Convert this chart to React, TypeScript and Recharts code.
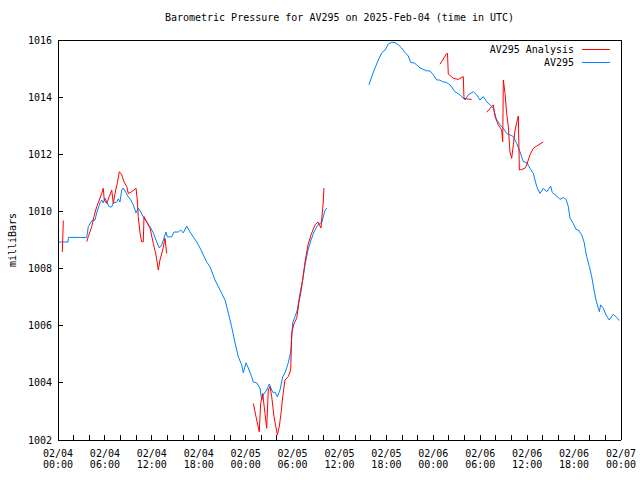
import React from "react";
import { LineChart, Line, XAxis, YAxis } from "recharts";

// hours since 02/04 00:00 UTC, pressure in mb
const av295Seg1: [number, number][] = [
    [0, 1008.93], [1.28, 1008.93], [1.34, 1009.09], [3.67, 1009.09], [3.88, 1009.47], [4.31, 1009.67],
    [4.73, 1009.7], [4.95, 1009.95], [5.15, 1010.12], [5.37, 1010.3], [5.59, 1010.4], [5.79, 1010.3],
    [6.01, 1010.47], [6.23, 1010.33], [6.56, 1010.16], [6.87, 1010.16], [7.07, 1010.3], [7.51, 1010.33],
    [7.71, 1010.44], [7.93, 1010.33], [8.15, 1010.75], [8.35, 1010.82], [8.7, 1010.65], [8.99, 1010.51],
    [9.3, 1010.4], [9.63, 1010.23], [9.98, 1009.95], [10.27, 1010.12], [10.58, 1009.98], [10.91, 1009.81],
    [11.34, 1009.63], [11.77, 1009.46], [12.19, 1009.25], [12.53, 1009.0], [12.95, 1008.72], [13.26, 1008.83],
    [13.56, 1009.07], [13.81, 1009.28], [13.98, 1009.11], [14.54, 1009.11], [14.83, 1009.28], [15.38, 1009.28],
    [15.69, 1009.35], [16.02, 1009.25], [16.46, 1009.49], [16.88, 1009.28], [17.3, 1009.11], [17.74, 1008.93],
    [18.16, 1008.72], [18.58, 1008.48], [19.02, 1008.23], [19.44, 1008.06], [20.08, 1007.6], [20.72, 1007.25],
    [21.36, 1006.9], [21.78, 1006.45], [22.21, 1005.96], [22.64, 1005.4], [23.06, 1004.91], [23.49, 1004.63],
    [23.7, 1004.35], [24.04, 1004.7], [24.34, 1004.52], [24.77, 1004.21], [24.98, 1004.03], [25.41, 1004.0],
    [25.83, 1003.82], [26.05, 1003.4], [26.26, 1003.58], [26.69, 1003.75], [27.02, 1003.96], [27.33, 1003.75],
    [27.53, 1003.65], [27.75, 1003.68], [28.05, 1003.51], [28.39, 1003.75], [28.74, 1004.21], [29.03, 1004.35],
    [29.45, 1004.7], [29.76, 1005.08], [30.01, 1006.1], [30.31, 1006.31], [30.6, 1006.55], [30.95, 1007.15],
    [31.29, 1007.6], [31.59, 1008.13], [31.97, 1008.65], [32.36, 1009.0], [32.74, 1009.28], [33.25, 1009.53],
    [33.76, 1009.63], [34.15, 1010.05], [34.4, 1010.12],
];

const av295Seg2: [number, number][] = [
    [39.77, 1014.43], [40.12, 1014.72], [40.54, 1015.02], [40.96, 1015.3], [41.4, 1015.55], [41.82, 1015.65],
    [42.24, 1015.86], [42.68, 1015.92], [43.1, 1015.91], [43.52, 1015.83], [43.95, 1015.72], [44.38, 1015.56],
    [44.8, 1015.44], [45.11, 1015.21], [45.53, 1015.2], [45.87, 1015.13], [46.3, 1015.02], [46.72, 1014.97],
    [47.15, 1014.92], [47.57, 1014.92], [48.0, 1014.78], [48.43, 1014.6], [48.76, 1014.6], [49.2, 1014.54],
    [49.71, 1014.51], [50.13, 1014.43], [50.77, 1014.19], [51.41, 1014.08], [52.05, 1013.9], [52.47, 1014.08],
    [53.11, 1014.19], [53.55, 1014.08], [53.97, 1013.9], [54.39, 1014.02], [54.83, 1013.84], [55.25, 1013.73],
    [55.67, 1013.61], [56.1, 1013.2], [56.53, 1013.03], [56.95, 1012.91], [57.38, 1012.73], [57.8, 1012.68],
    [58.23, 1012.62], [58.66, 1012.38], [59.08, 1012.09], [59.51, 1011.74], [59.94, 1011.71], [60.36, 1011.51],
    [60.79, 1011.33], [61.0, 1011.1], [61.22, 1010.87], [61.64, 1010.63], [62.06, 1010.81], [62.5, 1010.69],
    [63.01, 1010.89], [63.21, 1010.66], [63.78, 1010.54], [64.2, 1010.42], [64.62, 1010.49], [64.97, 1010.42],
    [65.26, 1010.17], [65.48, 1009.76], [65.9, 1009.58], [66.24, 1009.37], [66.54, 1009.35], [66.97, 1009.18],
    [67.27, 1008.94], [67.61, 1008.42], [67.95, 1008.07], [68.25, 1007.72], [68.55, 1007.25], [68.8, 1006.9],
    [69.1, 1006.61], [69.23, 1006.49], [69.4, 1006.73], [69.74, 1006.61], [70.08, 1006.38], [70.5, 1006.2],
    [71.01, 1006.4], [71.45, 1006.29], [71.78, 1006.18],
];

const analysisSeg1: [number, number][] = [[0.55, 1008.58], [0.68, 1009.68]];

const analysisSeg2: [number, number][] = [
    [3.67, 1008.94], [3.88, 1009.12], [4.31, 1009.47], [4.6, 1009.82], [4.95, 1010.17], [5.28, 1010.4],
    [5.59, 1010.63], [5.79, 1010.81], [5.92, 1010.4], [6.23, 1010.28], [6.56, 1010.52], [6.87, 1010.75],
    [7.07, 1010.28], [7.38, 1010.75], [7.58, 1010.98], [7.84, 1011.39], [8.15, 1011.28], [8.44, 1011.04],
    [8.79, 1010.87], [8.99, 1010.63], [9.43, 1010.69], [9.98, 1010.81], [10.14, 1010.4], [10.27, 1009.82],
    [10.49, 1009.24], [10.7, 1008.94], [10.91, 1008.94], [11.0, 1009.82], [11.34, 1009.64], [11.77, 1009.41],
    [12.19, 1008.88], [12.53, 1008.48], [12.83, 1007.95], [13.04, 1008.3], [13.39, 1008.65], [13.68, 1009.06],
    [13.9, 1008.53],
];

const analysisSeg3: [number, number][] = [
    [24.98, 1003.28], [25.41, 1002.7], [25.74, 1002.29], [25.92, 1003.28], [26.18, 1003.63], [26.47, 1002.93],
    [26.69, 1002.41], [26.89, 1003.75], [27.11, 1003.87], [27.33, 1003.52], [27.62, 1002.82], [28.05, 1002.18],
    [28.3, 1002.47], [28.52, 1002.93], [28.74, 1003.52], [29.03, 1004.1], [29.45, 1004.22], [29.76, 1004.45],
    [29.89, 1005.73], [30.18, 1006.08], [30.53, 1006.26], [30.86, 1006.9], [31.04, 1007.13], [31.29, 1007.6],
    [31.59, 1008.23], [31.97, 1008.83], [32.36, 1009.18], [32.87, 1009.53], [33.25, 1009.63], [33.63, 1009.42],
    [33.89, 1010.23], [34.02, 1010.82],
];

const analysisSeg4: [number, number][] = [
    [48.85, 1015.15], [49.71, 1015.53], [49.81, 1015.53], [49.91, 1014.81], [50.55, 1014.66], [51.19, 1014.62],
    [51.83, 1014.72], [51.92, 1013.96], [52.27, 1013.94], [52.91, 1013.92],
];

const analysisSeg5: [number, number][] = [
    [54.83, 1013.47], [55.46, 1013.67], [55.67, 1013.73], [55.89, 1013.32], [56.31, 1013.03], [56.74, 1012.85],
    [56.87, 1012.44], [56.95, 1014.6], [57.17, 1014.13], [57.38, 1013.43], [57.59, 1012.97], [57.8, 1012.09],
    [58.02, 1011.86], [58.23, 1012.33], [58.45, 1012.85], [58.74, 1013.2], [58.87, 1013.34], [59.0, 1011.45],
    [59.3, 1011.47], [59.72, 1011.51], [59.94, 1011.63], [60.36, 1011.98], [60.79, 1012.21], [61.22, 1012.29],
    [61.64, 1012.36], [62.06, 1012.43],
];

const hourTicks = [0, 2, 4, 6, 8, 10, 12, 14, 16, 18, 20, 22, 24, 26, 28, 30, 32, 34, 36, 38, 40, 42, 44, 46, 48, 50, 52, 54, 56, 58, 60, 62, 64, 66, 68, 70, 72];
const pressureTicks = [1002, 1004, 1006, 1008, 1010, 1012, 1014, 1016];

const FONT = "'DejaVu Sans Mono', monospace";
const RED = "#ff0000";
const BLUE = "#0080ff";

// join segments with a null point so the line breaks between them
function joinSegments(segs: [number, number][][]) {
    const out: { h: number; v: number | null }[] = [];
    segs.forEach((seg, i) => {
        if (i > 0) out.push({ h: seg[0][0] - 0.01, v: null });
        seg.forEach(([h, v]) => out.push({ h, v }));
    });
    return out;
}

const av295Data = joinSegments([av295Seg1, av295Seg2]);
const analysisData = joinSegments([analysisSeg1, analysisSeg2, analysisSeg3, analysisSeg4, analysisSeg5]);

// eslint-disable-next-line @typescript-eslint/no-explicit-any
const TimeTick = ({ x, y, payload }: any) => {
    const h = payload.value;
    if (h % 6 !== 0) return null;
    const day = 4 + Math.floor(h / 24);
    const hr = h % 24;
    const d = `02/${String(day).padStart(2, "0")}`;
    const t = `${String(hr).padStart(2, "0")}:00`;
    return (
        <text x={x} textAnchor="middle" fontFamily={FONT} fontSize={10} fill="#000">
            <tspan x={x} y={y + 12}>{d}</tspan>
            <tspan x={x} y={y + 23}>{t}</tspan>
        </text>
    );
};

export default function App() {
    return (
        <div style={{ position: "relative", width: 640, height: 480, background: "#fff" }}>
            <style>{`body{margin:0} .recharts-cartesian-axis line{shape-rendering:crispEdges}`}</style>
            <div style={{ position: "absolute", left: 0, width: 679, top: 12, textAlign: "center", fontFamily: FONT, fontSize: 10, lineHeight: "12px" }}>
                Barometric Pressure for AV295 on 2025-Feb-04 (time in UTC)
            </div>
            <div style={{ position: "absolute", right: 66, top: 44, fontFamily: FONT, fontSize: 10, lineHeight: "12.5px", textAlign: "right" }}>
                <div>AV295 Analysis</div>
                <div>AV295</div>
            </div>
            <div style={{ position: "absolute", left: 582, width: 28, top: 49, height: 1, background: RED }} />
            <div style={{ position: "absolute", left: 582, width: 28, top: 62, height: 1, background: BLUE }} />
            <LineChart width={640} height={480} margin={{ top: 30, right: 9, bottom: 0, left: 0 }}>
                <XAxis
                    xAxisId="b"
                    dataKey="h"
                    type="number"
                    domain={[0, 72]}
                    ticks={hourTicks}
                    interval={0}
                    height={40}
                    tickSize={-5}
                    tickMargin={10}
                    stroke="#000"
                    tick={<TimeTick />}
                    allowDataOverflow
                />
                <XAxis
                    xAxisId="t"
                    orientation="top"
                    type="number"
                    domain={[0, 72]}
                    ticks={hourTicks}
                    interval={0}
                    height={10}
                    tickSize={-5}
                    tick={false}
                    stroke="#000"
                    allowDataOverflow
                />
                <YAxis
                    yAxisId="l"
                    type="number"
                    domain={[1002, 1016]}
                    ticks={pressureTicks}
                    interval={0}
                    width={58}
                    tickSize={-5}
                    tickMargin={11}
                    stroke="#000"
                    tick={{ fontFamily: FONT, fontSize: 10, fill: "#000" }}
                    allowDataOverflow
                    label={{ value: "milliBars", angle: -90, position: "insideLeft", offset: 12, style: { textAnchor: "middle", fontFamily: FONT, fontSize: 10, fill: "#000" } }}
                />
                <YAxis
                    yAxisId="r"
                    orientation="right"
                    type="number"
                    domain={[1002, 1016]}
                    ticks={pressureTicks}
                    interval={0}
                    width={10}
                    tickSize={-5}
                    tick={false}
                    stroke="#000"
                    allowDataOverflow
                />
                <Line
                    xAxisId="b"
                    yAxisId="l"
                    data={av295Data}
                    dataKey="v"
                    name="AV295"
                    type="linear"
                    stroke={BLUE}
                    strokeWidth={1}
                    dot={false}
                    isAnimationActive={false}
                />
                <Line
                    xAxisId="b"
                    yAxisId="l"
                    data={analysisData}
                    dataKey="v"
                    name="AV295 Analysis"
                    type="linear"
                    stroke={RED}
                    strokeWidth={1}
                    dot={false}
                    isAnimationActive={false}
                />
            </LineChart>
        </div>
    );
}
